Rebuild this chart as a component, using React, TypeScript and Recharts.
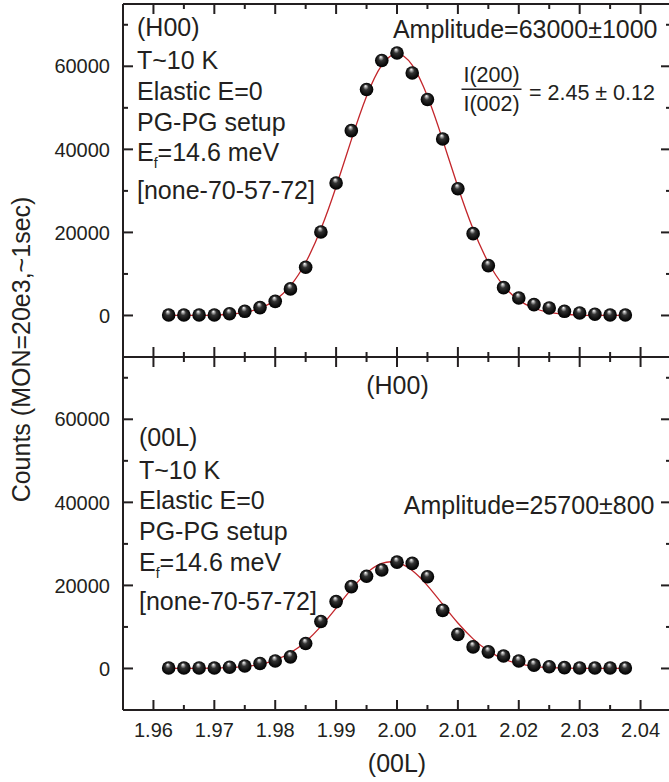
import { ComposedChart, Scatter, Line, XAxis, YAxis } from "recharts";

const qValues = [
  1.9625, 1.965, 1.9675, 1.97, 1.9725, 1.975, 1.9775, 1.98, 1.9825, 1.985, 1.9875,
  1.99, 1.9925, 1.995, 1.9975, 2.0, 2.0025, 2.005, 2.0075, 2.01, 2.0125, 2.015,
  2.0175, 2.02, 2.0225, 2.025, 2.0275, 2.03, 2.0325, 2.035, 2.0375,
];

// (H00) scan
const h00Counts = [
  100, 100, 100, 100, 400, 1000, 1900, 3400, 6400, 11600, 20100, 31900, 44500, 54400,
  61400, 63200, 58400, 52000, 42500, 30500, 19700, 12000, 6700, 4200, 2600, 1800, 1000,
  600, 300, 100, 100,
];
const h00Fit = [
  3, 10, 35, 106, 295, 750, 1740, 3690, 7180, 12770, 20800, 31000, 42280, 52760, 60270,
  63000, 60270, 52760, 42280, 31000, 20800, 12770, 7180, 3690, 1740, 750, 295, 106, 35,
  10, 3,
];

// (00L) scan
const l00Counts = [
  100, 100, 100, 100, 300, 600, 1200, 1800, 2800, 6000, 11300, 16100, 19700, 22200,
  23700, 25600, 25300, 22100, 14000, 8200, 5200, 4000, 3000, 1800, 800, 400, 200, 100,
  100, 100, 100,
];
const l00Fit = [
  0, 7, 24, 69, 183, 445, 991, 2020, 3780, 6460, 10130, 14530, 19090, 22960, 25300,
  25520, 23570, 19950, 15450, 10960, 7130, 4240, 2310, 1150, 526, 220, 84, 30, 10, 3, 1,
];

const xMajor = [1.96, 1.97, 1.98, 1.99, 2.0, 2.01, 2.02, 2.03, 2.04];
const xMinor = [1.965, 1.975, 1.985, 1.995, 2.005, 2.015, 2.025, 2.035];
const yMajor = [0, 20000, 40000, 60000];
const yMinor = [10000, 30000, 50000, 70000];

const X_DOMAIN = [1.955, 2.045];
const Y_DOMAIN = [-10000, 75000];
const INK = "#231f20";
const FIT = "#c3262b";
const FONT = "'Liberation Sans', Arial, Helvetica, sans-serif";

const xTicks = [...xMajor, ...xMinor].sort((a, b) => a - b);
const yTicks = [...yMajor, ...yMinor].sort((a, b) => a - b);
const has = (list: number[], v: number) => list.some((m) => Math.abs(m - v) < 1e-9);

const toPoints = (vals: number[]) => qValues.map((x, i) => ({ x, counts: vals[i] }));
const toFit = (vals: number[]) => qValues.map((x, i) => ({ x, fit: vals[i] }));

const Ball = (p: any) => <circle cx={p.cx} cy={p.cy} r={6.8} fill="url(#ball)" />;

const bottomTick = (labels: boolean) => (p: any) => {
  const major = has(xMajor, p.payload.value);
  const len = major ? 10 : 5;
  return (
    <g>
      <line x1={p.x} x2={p.x} y1={p.y} y2={p.y - len} stroke={INK} strokeWidth={2} />
      {labels && major && (
        <text x={p.x} y={p.y + 26.7} textAnchor="middle" fontSize={20} fill={INK} fontFamily={FONT}>
          {p.payload.value.toFixed(2)}
        </text>
      )}
    </g>
  );
};

const topTick = (p: any) => {
  const len = has(xMajor, p.payload.value) ? 10 : 5;
  return <line x1={p.x} x2={p.x} y1={p.y} y2={p.y + len} stroke={INK} strokeWidth={2} />;
};

const leftTick = (p: any) => {
  const major = has(yMajor, p.payload.value);
  const len = major ? 10 : 5;
  return (
    <g>
      <line x1={p.x} x2={p.x + len} y1={p.y} y2={p.y} stroke={INK} strokeWidth={2} />
      {major && (
        <text x={p.x - 13} y={p.y + 7.2} textAnchor="end" fontSize={20} fill={INK} fontFamily={FONT}>
          {p.payload.value}
        </text>
      )}
    </g>
  );
};

const rightTick = (p: any) => {
  const len = has(yMajor, p.payload.value) ? 10 : 5;
  return <line x1={p.x - len} x2={p.x} y1={p.y} y2={p.y} stroke={INK} strokeWidth={2} />;
};

const axisLine = { stroke: INK, strokeWidth: 2 };

function Panel(props: { counts: number[]; fit: number[]; height: number; topH: number; bottomH: number; labels: boolean }) {
  const { counts, fit, height, topH, bottomH, labels } = props;
  return (
    <ComposedChart width={675} height={height} margin={{ top: 0, right: 0, bottom: 0, left: 0 }}>
      <XAxis
        xAxisId="b" dataKey="x" type="number" domain={X_DOMAIN} allowDataOverflow ticks={xTicks}
        interval={0} height={bottomH} tickSize={0} tickMargin={0} tickLine={false}
        axisLine={axisLine} tick={bottomTick(labels)}
      />
      <XAxis
        xAxisId="t" orientation="top" dataKey="x" type="number" domain={X_DOMAIN} allowDataOverflow
        ticks={xTicks} interval={0} height={topH} tickSize={0} tickMargin={0} tickLine={false}
        axisLine={axisLine} tick={topTick}
      />
      <YAxis
        yAxisId="l" type="number" domain={Y_DOMAIN} allowDataOverflow ticks={yTicks} interval={0}
        width={123} tickSize={0} tickMargin={0} tickLine={false} axisLine={axisLine} tick={leftTick}
      />
      <YAxis
        yAxisId="r" orientation="right" type="number" domain={Y_DOMAIN} allowDataOverflow ticks={yTicks}
        interval={0} width={4} tickSize={0} tickMargin={0} tickLine={false} axisLine={axisLine} tick={rightTick}
      />
      <Scatter
        xAxisId="b" yAxisId="l" data={toPoints(counts)} dataKey="counts"
        shape={Ball} isAnimationActive={false}
      />
      <Line
        xAxisId="b" yAxisId="l" data={toFit(fit)} dataKey="fit" type="natural"
        stroke={FIT} strokeWidth={1.3} dot={false} activeDot={false} isAnimationActive={false}
      />
    </ComposedChart>
  );
}

const txt = { fontSize: 25, fill: INK, fontFamily: FONT };

function InfoBlock({ x, lines, first }: { x: number; lines: number[]; first: string }) {
  return (
    <g fontSize={25} fill={INK} fontFamily={FONT}>
      <text x={x} y={lines[0]}>{first}</text>
      <text x={x} y={lines[1]}>T~10 K</text>
      <text x={x} y={lines[2]}>Elastic E=0</text>
      <text x={x} y={lines[3]}>PG-PG setup</text>
      <text x={x} y={lines[4]}>
        E<tspan fontSize={14} dy={7}>f</tspan>
        <tspan dy={-7}>=14.6 meV</tspan>
      </text>
      <text x={x} y={lines[5]}>[none-70-57-72]</text>
    </g>
  );
}

export default function App() {
  return (
    <div style={{ position: "absolute", left: 0, top: 0, width: 669, height: 782, overflow: "hidden", background: "#fff" }}>
      <svg width={0} height={0} style={{ position: "absolute" }}>
        <defs>
          <radialGradient id="ball" cx="0.5" cy="0.5" r="0.5" fx="0.42" fy="0.22">
            <stop offset="0" stopColor="#ffffff" />
            <stop offset="0.16" stopColor="#b0b0b0" />
            <stop offset="0.4" stopColor="#333" />
            <stop offset="0.8" stopColor="#0e0e0e" />
            <stop offset="1" stopColor="#000" />
          </radialGradient>
        </defs>
      </svg>
      <div style={{ position: "absolute", left: 0, top: 0 }}>
        <Panel counts={h00Counts} fit={h00Fit} height={360} topH={4} bottomH={3} labels={false} />
      </div>
      <div style={{ position: "absolute", left: 0, top: 350 }}>
        <Panel counts={l00Counts} fit={l00Fit} height={432} topH={7} bottomH={72} labels={true} />
      </div>
      <svg width={669} height={782} style={{ position: "absolute", left: 0, top: 0, pointerEvents: "none" }}>
        <InfoBlock x={137} first="(H00)" lines={[36, 68.5, 100, 130.5, 160.5, 198.5]} />
        <text x={657.5} y={38.3} textAnchor="end" {...txt}>Amplitude=63000±1000</text>
        <g fontFamily={FONT} fontSize={21.5} fill={INK}>
          <text x={491.5} y={81.5} textAnchor="middle">I(200)</text>
          <line x1={461.5} x2={521.5} y1={89.3} y2={89.3} stroke={INK} strokeWidth={1.4} />
          <text x={491.5} y={110.5} textAnchor="middle">I(002)</text>
          <text x={529} y={100}>= 2.45 ± 0.12</text>
        </g>

        <text x={397.5} y={394} textAnchor="middle" {...txt}>(H00)</text>
        <InfoBlock x={139} first="(00L)" lines={[446, 478.5, 508.5, 540, 571, 610]} />
        <text x={654.5} y={514.3} textAnchor="end" {...txt}>Amplitude=25700±800</text>

        <text x={397} y={772} textAnchor="middle" {...txt}>(00L)</text>
        <text transform="translate(30, 349.5) rotate(-90)" textAnchor="middle" {...txt}>
          Counts (MON=20e3,~1sec)
        </text>
      </svg>
    </div>
  );
}
